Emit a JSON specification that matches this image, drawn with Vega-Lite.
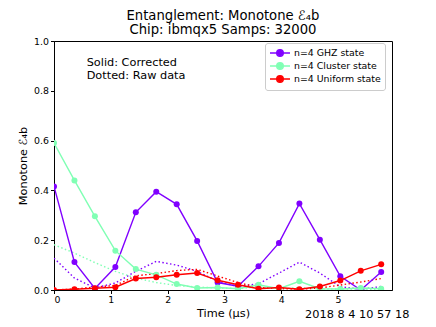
{
  "$schema": "https://vega.github.io/schema/vega-lite/v6.json",
  "width": 338,
  "height": 249,
  "autosize": {"type": "none"},
  "padding": {"left": 54, "top": 41, "right": 44, "bottom": 37},
  "background": "white",
  "title": {
    "text": "Entanglement: Monotone ℰ₄b",
    "subtitle": "Chip: ibmqx5  Samps: 32000",
    "font": "DejaVu Sans",
    "fontSize": 13.2,
    "fontWeight": "normal",
    "color": "black",
    "subtitleFont": "DejaVu Sans",
    "subtitleFontSize": 13.2,
    "subtitleColor": "black",
    "subtitlePadding": 1,
    "anchor": "middle",
    "offset": -1.5
  },
  "data": {
    "values": [
      {"t": 0, "s": "n=4 GHZ state", "c": 0.416, "r": 0.128},
      {"t": 0.36, "s": "n=4 GHZ state", "c": 0.112, "r": 0.048},
      {"t": 0.72, "s": "n=4 GHZ state", "c": 0.006, "r": 0.008},
      {"t": 1.08, "s": "n=4 GHZ state", "c": 0.092, "r": 0.028},
      {"t": 1.44, "s": "n=4 GHZ state", "c": 0.312, "r": 0.075},
      {"t": 1.8, "s": "n=4 GHZ state", "c": 0.395, "r": 0.115},
      {"t": 2.16, "s": "n=4 GHZ state", "c": 0.344, "r": 0.1},
      {"t": 2.52, "s": "n=4 GHZ state", "c": 0.197, "r": 0.075},
      {"t": 2.88, "s": "n=4 GHZ state", "c": 0.03, "r": 0.035},
      {"t": 3.24, "s": "n=4 GHZ state", "c": 0.015, "r": 0.014},
      {"t": 3.6, "s": "n=4 GHZ state", "c": 0.095, "r": 0.025},
      {"t": 3.96, "s": "n=4 GHZ state", "c": 0.189, "r": 0.068},
      {"t": 4.32, "s": "n=4 GHZ state", "c": 0.347, "r": 0.112},
      {"t": 4.68, "s": "n=4 GHZ state", "c": 0.202, "r": 0.068},
      {"t": 5.04, "s": "n=4 GHZ state", "c": 0.055, "r": 0.013},
      {"t": 5.4, "s": "n=4 GHZ state", "c": 0.0, "r": 0.003},
      {"t": 5.76, "s": "n=4 GHZ state", "c": 0.072, "r": 0.014},
      {"t": 0, "s": "n=4 Cluster state", "c": 0.59, "r": 0.182},
      {"t": 0.36, "s": "n=4 Cluster state", "c": 0.44, "r": 0.148},
      {"t": 0.72, "s": "n=4 Cluster state", "c": 0.296, "r": 0.11},
      {"t": 1.08, "s": "n=4 Cluster state", "c": 0.158, "r": 0.075},
      {"t": 1.44, "s": "n=4 Cluster state", "c": 0.084, "r": 0.048},
      {"t": 1.8, "s": "n=4 Cluster state", "c": 0.061, "r": 0.03},
      {"t": 2.16, "s": "n=4 Cluster state", "c": 0.024, "r": 0.018},
      {"t": 2.52, "s": "n=4 Cluster state", "c": 0.008, "r": 0.012},
      {"t": 2.88, "s": "n=4 Cluster state", "c": 0.01, "r": 0.008},
      {"t": 3.24, "s": "n=4 Cluster state", "c": 0.005, "r": 0.006},
      {"t": 3.6, "s": "n=4 Cluster state", "c": 0.021, "r": 0.012},
      {"t": 3.96, "s": "n=4 Cluster state", "c": 0.005, "r": 0.005},
      {"t": 4.32, "s": "n=4 Cluster state", "c": 0.035, "r": 0.01},
      {"t": 4.68, "s": "n=4 Cluster state", "c": 0.005, "r": 0.004},
      {"t": 5.04, "s": "n=4 Cluster state", "c": 0.004, "r": 0.004},
      {"t": 5.4, "s": "n=4 Cluster state", "c": 0.008, "r": 0.003},
      {"t": 5.76, "s": "n=4 Cluster state", "c": 0.005, "r": 0.003},
      {"t": 0, "s": "n=4 Uniform state", "c": 0.0, "r": 0.0},
      {"t": 0.36, "s": "n=4 Uniform state", "c": 0.003, "r": 0.004},
      {"t": 0.72, "s": "n=4 Uniform state", "c": 0.007, "r": 0.012},
      {"t": 1.08, "s": "n=4 Uniform state", "c": 0.011, "r": 0.018},
      {"t": 1.44, "s": "n=4 Uniform state", "c": 0.046, "r": 0.057},
      {"t": 1.8, "s": "n=4 Uniform state", "c": 0.051, "r": 0.066},
      {"t": 2.16, "s": "n=4 Uniform state", "c": 0.061, "r": 0.078},
      {"t": 2.52, "s": "n=4 Uniform state", "c": 0.068, "r": 0.083},
      {"t": 2.88, "s": "n=4 Uniform state", "c": 0.039, "r": 0.056},
      {"t": 3.24, "s": "n=4 Uniform state", "c": 0.021, "r": 0.03},
      {"t": 3.6, "s": "n=4 Uniform state", "c": 0.005, "r": 0.01},
      {"t": 3.96, "s": "n=4 Uniform state", "c": 0.01, "r": 0.006},
      {"t": 4.32, "s": "n=4 Uniform state", "c": 0.003, "r": 0.003},
      {"t": 4.68, "s": "n=4 Uniform state", "c": 0.014, "r": 0.008},
      {"t": 5.04, "s": "n=4 Uniform state", "c": 0.038, "r": 0.02},
      {"t": 5.4, "s": "n=4 Uniform state", "c": 0.077, "r": 0.032},
      {"t": 5.76, "s": "n=4 Uniform state", "c": 0.103, "r": 0.046}
    ]
  },
  "encoding": {
    "x": {
      "field": "t",
      "type": "quantitative",
      "scale": {"domain": [0, 5.95], "nice": false, "zero": false},
      "axis": {"values": [0, 1, 2, 3, 4, 5], "format": "d", "title": "Time (μs)", "titlePadding": 4}
    },
    "color": {
      "field": "s",
      "type": "nominal",
      "scale": {
        "domain": ["n=4 GHZ state", "n=4 Cluster state", "n=4 Uniform state"],
        "range": ["#8000ff", "#80ffb4", "#ff0000"]
      },
      "legend": {
        "title": null,
        "orient": "none",
        "legendX": 211,
        "legendY": 2,
        "encode": {
          "symbols": {
            "update": {
              "fill": {"scale": "color", "field": "value"},
              "stroke": {"scale": "color", "field": "value"},
              "opacity": {"value": 1}
            }
          }
        }
      }
    }
  },
  "layer": [
    {
      "mark": {"type": "line", "strokeWidth": 1.4, "strokeDash": [1.5, 2.4], "clip": true},
      "encoding": {
        "y": {"field": "r", "type": "quantitative", "scale": {"domain": [0, 1], "nice": false}, "axis": {"values": [0, 0.2, 0.4, 0.6, 0.8, 1.0], "format": ".1f", "title": "Monotone ℰ₄b", "titlePadding": 5}}
      }
    },
    {
      "mark": {"type": "line", "strokeWidth": 1.4, "clip": true},
      "encoding": {
        "y": {"field": "c", "type": "quantitative", "scale": {"domain": [0, 1], "nice": false}, "axis": {"values": [0, 0.2, 0.4, 0.6, 0.8, 1.0], "format": ".1f", "title": "Monotone ℰ₄b", "titlePadding": 5}}
      }
    },
    {
      "mark": {"type": "circle", "size": 36, "opacity": 1, "clip": true},
      "encoding": {
        "y": {"field": "c", "type": "quantitative", "scale": {"domain": [0, 1], "nice": false}, "axis": {"values": [0, 0.2, 0.4, 0.6, 0.8, 1.0], "format": ".1f", "title": "Monotone ℰ₄b", "titlePadding": 5}}
      }
    },
    {
      "data": {
        "values": [
          {"t": 0.575, "v": 0.9106, "label": "Solid: Corrected"},
          {"t": 0.575, "v": 0.861, "label": "Dotted: Raw data"}
        ]
      },
      "mark": {"type": "text", "font": "DejaVu Sans", "fontSize": 11.3, "baseline": "middle", "align": "left"},
      "encoding": {
        "x": {"field": "t", "type": "quantitative"},
        "y": {"field": "v", "type": "quantitative"},
        "text": {"field": "label"},
        "color": {"value": "black"}
      }
    },
    {
      "data": {
        "values": [
          {"t": 5.338, "v": -0.113, "label": "2018 8 4 10 57 18"}
        ]
      },
      "mark": {"type": "text", "font": "DejaVu Sans", "fontSize": 11.3, "baseline": "alphabetic", "align": "center"},
      "encoding": {
        "x": {"field": "t", "type": "quantitative"},
        "y": {"field": "v", "type": "quantitative"},
        "text": {"field": "label"},
        "color": {"value": "black"}
      }
    }
  ],
  "config": {
    "view": {"stroke": "black", "strokeWidth": 1},
    "axis": {
      "labelFont": "DejaVu Sans",
      "labelFontSize": 9.4,
      "labelColor": "black",
      "titleFont": "DejaVu Sans",
      "titleFontSize": 11.3,
      "titleFontWeight": "normal",
      "titleColor": "black",
      "tickColor": "black",
      "domainColor": "black",
      "tickSize": 3.5,
      "labelPadding": 2,
      "grid": false
    },
    "legend": {
      "padding": 4,
      "rowPadding": -2.4,
      "symbolType": "M-2,0L2,0M0.66,0A0.66,0.66,0,1,1,-0.66,0A0.66,0.66,0,1,1,0.66,0Z",
      "symbolSize": 100,
      "symbolStrokeWidth": 1.4,
      "symbolOffset": 5,
      "labelOffset": 8,
      "labelFont": "DejaVu Sans",
      "labelFontSize": 9.4,
      "labelColor": "black",
      "strokeColor": "#cccccc",
      "fillColor": "white",
      "cornerRadius": 2.5
    }
  }
}
